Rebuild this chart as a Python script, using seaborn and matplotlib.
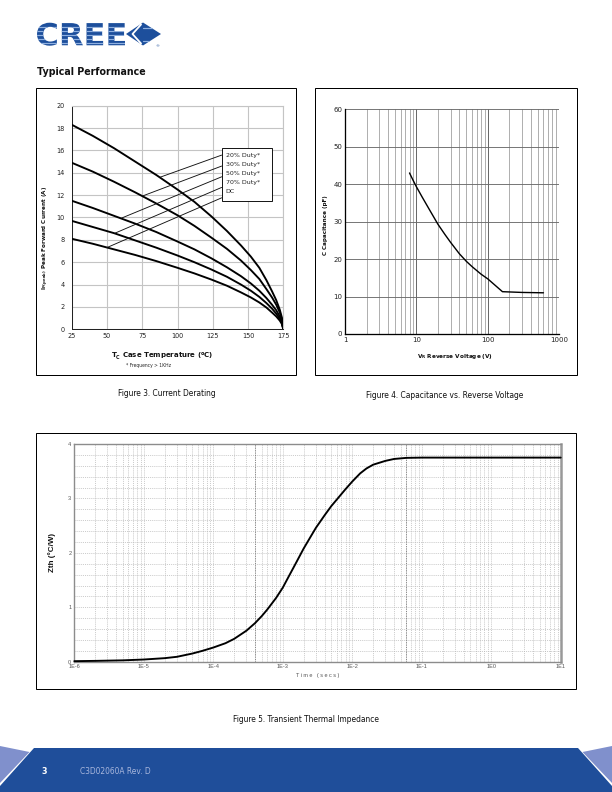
import numpy as np
import pandas as pd
import matplotlib
matplotlib.use("Agg")
import matplotlib.pyplot as plt
import seaborn as sns
from matplotlib.patches import Rectangle, Polygon, PathPatch
from matplotlib.textpath import TextPath
from matplotlib.font_manager import FontProperties
from matplotlib.ticker import FixedLocator, FixedFormatter, NullFormatter, MultipleLocator, LogLocator
import matplotlib.transforms as mtransforms

# ---------------- Figure 3: current derating ----------------
derate_temp = [25, 40, 55, 70, 85, 100, 112, 124, 135, 145, 152, 158, 163, 167, 170, 172.5, 174, 175]
derate_20 = [18.3, 17.3, 16.2, 15.0, 13.8, 12.5, 11.4, 10.1, 8.8, 7.5, 6.5, 5.5, 4.4, 3.4, 2.6, 1.75, 1.05, 0]
derate_30 = [14.9, 14.1, 13.2, 12.25, 11.25, 10.2, 9.25, 8.2, 7.2, 6.15, 5.3, 4.5, 3.6, 2.85, 2.2, 1.5, 0.9, 0]
derate_50 = [11.5, 10.85, 10.15, 9.45, 8.7, 7.85, 7.15, 6.35, 5.55, 4.75, 4.1, 3.45, 2.8, 2.2, 1.7, 1.15, 0.7, 0]
derate_70 = [9.7, 9.15, 8.6, 7.95, 7.3, 6.6, 6.0, 5.35, 4.7, 4.0, 3.45, 2.9, 2.35, 1.85, 1.4, 0.95, 0.58, 0]
derate_dc = [8.1, 7.65, 7.15, 6.65, 6.1, 5.5, 5.0, 4.45, 3.9, 3.3, 2.85, 2.4, 1.95, 1.5, 1.15, 0.78, 0.47, 0]
duty_labels = ["20% Duty*", "30% Duty*", "50% Duty*", "70% Duty*", "DC"]
derate_xticks = [25, 50, 75, 100, 125, 150, 175]
derate_yticks = [0, 2, 4, 6, 8, 10, 12, 14, 16, 18, 20]
# leader lines: where each label's pointer meets its curve
leader_end_temp = [87.6, 75.8, 60.4, 55.7, 49.8]
leader_end_curr = [13.6, 11.95, 9.95, 8.6, 7.3]

# ---------------- Figure 4: capacitance ----------------
cap_voltage = [8, 9, 10, 12, 15, 20, 25, 30, 40, 50, 60, 80, 100, 130, 160, 300, 600]
cap_pf = [43, 41, 39.3, 36.6, 33.4, 29.3, 26.6, 24.5, 21.4, 19.4, 18.0, 16.0, 14.7, 12.8, 11.3, 11.1, 11.0]
cap_xticks = [1, 10, 100, 1000]
cap_xticklabels = ["1", "10", "100", "1000"]
cap_yticks = [0, 10, 20, 30, 40, 50, 60]

# ---------------- Figure 5: transient thermal impedance ----------------
zth_time = [1e-6, 2e-6, 5e-6, 1e-5, 2e-5, 3e-5, 5e-5, 7e-5, 1e-4, 1.5e-4, 2e-4, 3e-4, 4e-4, 5e-4,
            6e-4, 8e-4, 1e-3, 1.2e-3, 1.5e-3, 2e-3, 2.5e-3, 3e-3, 4e-3, 5e-3, 6e-3, 8e-3, 1e-2,
            1.3e-2, 1.6e-2, 2e-2, 3e-2, 4e-2, 6e-2, 1e-1, 1e1]
zth_val = [0.01, 0.015, 0.025, 0.04, 0.065, 0.09, 0.15, 0.2, 0.26, 0.34, 0.42, 0.57, 0.71, 0.84,
           0.96, 1.17, 1.36, 1.55, 1.78, 2.08, 2.29, 2.46, 2.69, 2.86, 2.98, 3.17, 3.31,
           3.46, 3.55, 3.62, 3.69, 3.725, 3.745, 3.75, 3.75]
zth_xticks = [1e-6, 1e-5, 1e-4, 1e-3, 1e-2, 1e-1, 1e0, 1e1]
zth_xticklabels = ["1E-6", "1E-5", "1E-4", "1E-3", "1E-2", "1E-1", "1E0", "1E1"]
zth_yticks = [0, 1, 2, 3, 4]

W, H = 612, 792
sns.set_theme(style="white")
plt.rcParams['font.family'] = ['DejaVu Sans']

fig = plt.figure(figsize=(W / 72, H / 72), dpi=72)


def px_rect(l, t, r, b):
    return [l / W, 1 - b / H, (r - l) / W, (b - t) / H]


# overlay in page pixel coordinates
ov = fig.add_axes([0, 0, 1, 1])
ov.set_xlim(0, W)
ov.set_ylim(H, 0)
ov.axis('off')

BLUE = '#1f4e9a'

# ---- logo
fp = FontProperties(family='DejaVu Sans', weight='bold')
tp = TextPath((0, 0), "CREE", size=30, prop=fp)
bb = tp.get_extents()
sx = 88 / bb.width
sy = 23 / bb.height
tr = mtransforms.Affine2D().scale(sx, -sy).translate(37 - bb.x0 * sx, 45.7 + sy * bb.y0)
logo = PathPatch(tr.transform_path(tp), fc='#1d4f9c', ec='none', transform=ov.transData)
ov.add_patch(logo)
for yy in [26.5, 30.8, 35.0, 39.2, 43.2]:
    ln, = ov.plot([35, 127], [yy, yy], color='#8fb0e0', lw=1.2)
    ln.set_clip_path(logo)
dia = Polygon([(126, 34), (143, 22.5), (161, 34), (143, 45.5)], closed=True, fc='#1d4f9c', ec='none')
ov.add_patch(dia)
ov.plot([141.5, 132.5, 141.5], [24.0, 34, 44.0], color='white', lw=1.8, solid_capstyle='butt')
for yy in [27.5, 40.5]:
    ln, = ov.plot([143, 162], [yy, yy], color='#8fb0e0', lw=1.2)
    ln.set_clip_path(dia)
ov.text(157, 46.5, "®", fontsize=4, color='#1d4f9c', ha='center', va='center')

ov.text(37, 72, "Typical Performance", fontsize=9.5, fontweight='bold', va='center', color='#111')

# ---- frames
ov.add_patch(Rectangle((36, 88), 260, 287, fill=False, ec='black', lw=1))
ov.add_patch(Rectangle((315, 88), 261.5, 287, fill=False, ec='black', lw=1))
ov.add_patch(Rectangle((36, 432.5), 540, 256.5, fill=False, ec='black', lw=1))

# ---- captions
ov.text(166.5, 393, "Figure 3. Current Derating", fontsize=7.5, ha='center', va='center', color='#111')
ov.text(445, 395, "Figure 4. Capacitance vs. Reverse Voltage", fontsize=7.5, ha='center', va='center', color='#111')
ov.text(306, 719, "Figure 5. Transient Thermal Impedance", fontsize=7.5, ha='center', va='center', color='#111')

# ---- footer
ov.add_patch(Polygon([(34, 748), (578, 748), (612, 786), (612, 792), (0, 792), (0, 786)],
                     closed=True, fc=BLUE, ec='none'))
ov.add_patch(Polygon([(0, 746), (29.5, 752), (0, 783)], closed=True, fc='#8090cc', ec='none'))
ov.add_patch(Polygon([(612, 746), (582.5, 752), (612, 783)], closed=True, fc='#8090cc', ec='none'))
ov.text(42, 772, "3", fontsize=8, fontweight='bold', color='white', va='center')
ov.text(80, 772, "C3D02060A Rev. D", fontsize=7.5, color='#a8b6dc', va='center')

# =============== Figure 3 ===============
ax3 = fig.add_axes(px_rect(71.7, 105.7, 283.3, 329.3))
df3 = pd.DataFrame({
    'temp': derate_temp * 5,
    'current': derate_20 + derate_30 + derate_50 + derate_70 + derate_dc,
    'series': sum([[lab] * len(derate_temp) for lab in duty_labels], []),
})
sns.lineplot(data=df3, x='temp', y='current', hue='series', palette=['black'] * 5,
             estimator=None, sort=False, legend=False, lw=1.9, ax=ax3, zorder=3)
ax3.set_xlim(25, 175)
ax3.set_ylim(0, 20)
ax3.set_xticks(derate_xticks)
ax3.set_yticks(derate_yticks)
ax3.grid(True, color='#c4c4c4', lw=1.1)
ax3.set_axisbelow(True)
ax3.tick_params(length=0, labelsize=6.5, labelcolor='#222')
ax3.tick_params(axis='y', pad=7)
ax3.tick_params(axis='x', pad=3.5)
ax3.set_xlabel('')
ax3.set_ylabel('')
for s in ['left', 'bottom']:
    ax3.spines[s].set_color('#222')
    ax3.spines[s].set_linewidth(1.0)
for s in ['top', 'right']:
    ax3.spines[s].set_color('#c4c4c4')
    ax3.spines[s].set_linewidth(1.1)

# label box with leader lines (data coords)
box_x0, box_x1 = 131.3, 166.8
box_y0, box_y1 = 11.45, 16.2
ax3.add_patch(Rectangle((box_x0, box_y0), box_x1 - box_x0, box_y1 - box_y0, fc='white',
                        ec='black', lw=0.9, zorder=6, clip_on=False))
text_y = [15.58, 14.78, 13.96, 13.16, 12.32]
lead_y = [15.58, 14.6, 13.64, 12.69, 11.76]
for lab, ty, ly, ex, ey in zip(duty_labels, text_y, lead_y, leader_end_temp, leader_end_curr):
    ax3.text(box_x0 + 2.9, ty, lab, fontsize=6.2, va='center', ha='left', color='#222', zorder=7)
    ax3.plot([box_x0, ex], [ly, ey], color='#111', lw=0.9, zorder=4)

ov.text(46, 238, r"$\mathbf{I}_{\mathbf{F(peak)}}$ Peak Forward Current (A)", rotation=90,
        fontsize=5.6, fontweight='bold', ha='center', va='center', color='#111')
ov.text(162.5, 356.5, r"$\mathbf{T}_{\mathbf{C}}$ Case Temperature ($\mathbf{^oC}$)", fontsize=7,
        fontweight='bold', ha='center', va='center', color='#111')
ov.text(149, 365, "* Frequency > 1KHz", fontsize=4.5, ha='center', va='center', color='#222')

# =============== Figure 4 ===============
ax4 = fig.add_axes(px_rect(345, 109.3, 559.3, 334))
df4 = pd.DataFrame({'voltage': cap_voltage, 'cap': cap_pf})
sns.lineplot(data=df4, x='voltage', y='cap', color='black', lw=1.4, estimator=None, sort=False,
             ax=ax4, zorder=3)
ax4.set_xscale('log')
ax4.set_xlim(1, 1000)
ax4.set_ylim(0, 60)
ax4.xaxis.set_major_locator(FixedLocator(cap_xticks))
ax4.xaxis.set_major_formatter(FixedFormatter(cap_xticklabels))
ax4.xaxis.set_minor_locator(LogLocator(base=10, subs=np.arange(2, 10)))
ax4.xaxis.set_minor_formatter(NullFormatter())
ax4.set_yticks(cap_yticks)
ax4.grid(True, which='major', axis='x', color='#5a5a5a', lw=0.9)
ax4.grid(True, which='minor', axis='x', color='#a8a8a8', lw=0.9)
ax4.grid(True, which='major', axis='y', color='#6a6a6a', lw=0.9)
ax4.set_axisbelow(True)
ax4.tick_params(which='both', length=0, labelsize=7, labelcolor='#222')
ax4.tick_params(axis='y', pad=2.5)
ax4.tick_params(axis='x', pad=3)
ax4.set_xlabel('')
ax4.set_ylabel('')
for s in ['left', 'bottom']:
    ax4.spines[s].set_color('black')
    ax4.spines[s].set_linewidth(1.3)
for s in ['top', 'right']:
    ax4.spines[s].set_visible(False)

ov.text(325, 225, "C Capacitance (pF)", rotation=90, fontsize=5.6, fontweight='bold',
        ha='center', va='center', color='#111')
ov.text(455, 356.5, r"$\mathbf{V}_{\mathbf{R}}$ Reverse Voltage (V)", fontsize=5.8, fontweight='bold',
        ha='center', va='center', color='#111')

# =============== Figure 5 ===============
ax5 = fig.add_axes(px_rect(74.3, 444, 560.7, 661.7))
df5 = pd.DataFrame({'time': zth_time, 'zth': zth_val})
sns.lineplot(data=df5, x='time', y='zth', color='black', lw=1.9, estimator=None, sort=False,
             ax=ax5, zorder=3, clip_on=False)
ax5.set_xscale('log')
ax5.set_xlim(1e-6, 10)
ax5.set_ylim(0, 4)
ax5.xaxis.set_major_locator(FixedLocator(zth_xticks))
ax5.xaxis.set_major_formatter(FixedFormatter(zth_xticklabels))
ax5.xaxis.set_minor_locator(LogLocator(base=10, subs=np.arange(2, 10)))
ax5.xaxis.set_minor_formatter(NullFormatter())
ax5.set_yticks(zth_yticks)
ax5.yaxis.set_minor_locator(MultipleLocator(0.2))
ax5.grid(True, which='both', color='#b8b8b8', lw=0.7, linestyle=(0, (1.5, 1.5)))
ax5.set_axisbelow(True)
for xv in [4e-4, 6e-2]:
    ax5.axvline(xv, color='#777777', lw=0.8, linestyle=(0, (1.5, 1.5)), zorder=1)
ax5.tick_params(which='both', length=0, labelsize=5.5, labelcolor='#555')
ax5.tick_params(axis='y', pad=3)
ax5.tick_params(axis='x', pad=2)
for lab in ax5.get_xticklabels() + ax5.get_yticklabels():
    lab.set_family(['Liberation Sans', 'DejaVu Sans'])
ax5.set_xlabel('')
ax5.set_ylabel('')
for s in ['left', 'top', 'bottom']:
    ax5.spines[s].set_color('#8c8c8c')
    ax5.spines[s].set_linewidth(1.4)
ax5.spines['right'].set_color('#999999')
ax5.spines['right'].set_linewidth(2.5)

ov.text(52, 553, "Zth (°C/W)", rotation=90, fontsize=8, fontweight='bold',
        family=['Liberation Sans', 'DejaVu Sans'], ha='center', va='center', color='#111')
ov.text(318, 675, "T i m e   ( s e c s )", fontsize=5.5, family=['Liberation Sans', 'DejaVu Sans'],
        ha='center', va='center', color='#555')

fig.savefig("out.png", dpi=72)
